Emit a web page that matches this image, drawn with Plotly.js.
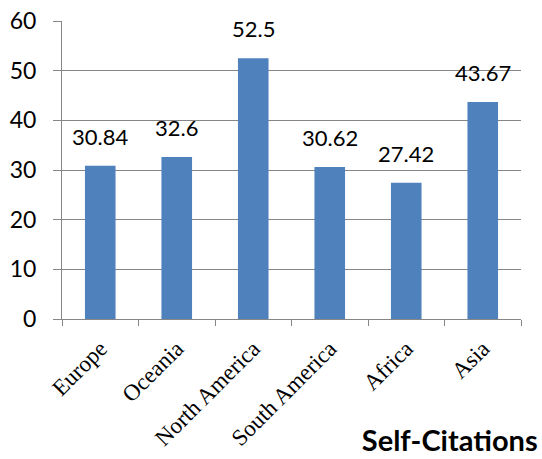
<!DOCTYPE html>
<html>
<head>
<meta charset="utf-8">
<script src="https://cdn.plot.ly/plotly-3.0.1.min.js"></script>
<style>
  html, body { margin: 0; padding: 0; background: #fff; }
  #chart { width: 542px; height: 459px; }
</style>
</head>
<body>
<div id="chart"></div>
<script>
// Average self-citations per region
const regions = ["Europe", "Oceania", "North America", "South America", "Africa", "Asia"];
const selfCitations = [30.84, 32.6, 52.5, 30.62, 27.42, 43.67];
const valueLabels = ["30.84", "32.6", "52.5", "30.62", "27.42", "43.67"];
const yTicks = [0, 10, 20, 30, 40, 50, 60];

const barColor = "#4F81BD";
const axisGray = "#868686";
const sansFont = "Lato, 'Open Sans', sans-serif";
const serifFont = "'Liberation Serif', 'Times New Roman', serif";

const trace = {
  type: "bar",
  x: regions,
  y: selfCitations,
  marker: { color: barColor, line: { width: 0 } },
  hoverinfo: "x+y"
};

// value labels sit a little above each bar
const labelAnnotations = regions.map((r, i) => ({
  x: r,
  y: selfCitations[i],
  xref: "x",
  yref: "y",
  text: valueLabels[i],
  showarrow: false,
  yanchor: "bottom",
  yshift: 14,
  font: { family: sansFont, size: 22, color: "#000" }
}));

const layout = {
  width: 542,
  height: 459,
  margin: { l: 62, r: 21, t: 21, b: 140 },
  paper_bgcolor: "#fff",
  plot_bgcolor: "#fff",
  bargap: 0.6,
  showlegend: false,
  title: {
    text: "<b>Self-Citations</b>",
    font: { family: sansFont, size: 29, color: "#000" },
    xref: "container",
    yref: "container",
    x: 0.992,
    xanchor: "right",
    y: 0.017,
    yanchor: "bottom"
  },
  xaxis: {
    type: "category",
    tickangle: -45,
    tickson: "boundaries",
    ticks: "outside",
    ticklen: 6,
    tickcolor: axisGray,
    tickwidth: 1,
    ticklabelstandoff: 6,
    showline: true,
    linecolor: axisGray,
    linewidth: 1,
    showgrid: false,
    zeroline: false,
    tickfont: { family: serifFont, size: 23, color: "#000" }
  },
  yaxis: {
    range: [0, 60],
    tickvals: yTicks,
    ticktext: yTicks.map(String),
    ticks: "outside",
    ticklen: 8,
    tickcolor: axisGray,
    tickwidth: 1,
    ticklabelstandoff: 12,
    showline: true,
    linecolor: axisGray,
    linewidth: 1,
    showgrid: true,
    gridcolor: axisGray,
    gridwidth: 1,
    zeroline: false,
    tickfont: { family: sansFont, size: 23, color: "#000" }
  },
  annotations: labelAnnotations
};

Plotly.newPlot("chart", [trace], layout, { displayModeBar: false, staticPlot: true });
</script>
</body>
</html>
